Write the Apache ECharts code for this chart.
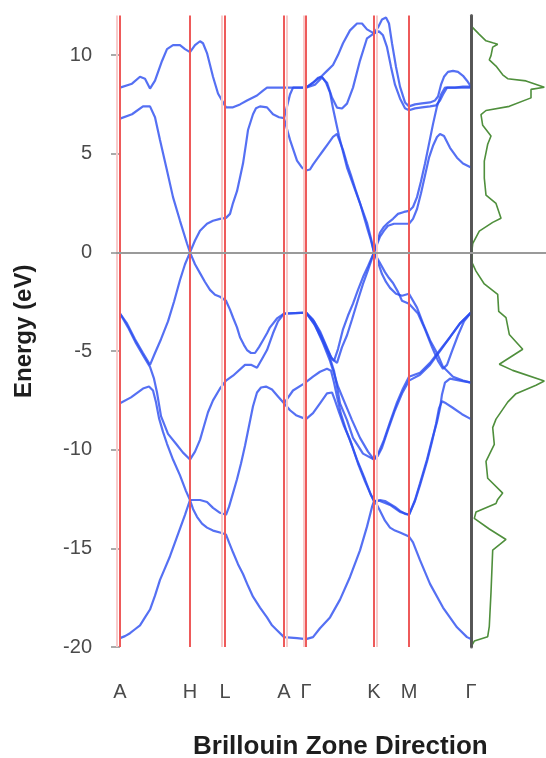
<!DOCTYPE html>
<html><head><meta charset="utf-8">
<script src="https://cdn.jsdelivr.net/npm/echarts@6/dist/echarts.min.js"></script>
<style>html,body{margin:0;padding:0;background:#fff}#c{width:546px;height:758px}</style>
</head><body><div id="c"></div>
<script>
// k-path positions (arbitrary path units) and labels
const kTicks = [0, 70, 105, 164, 186, 254, 289, 351];
const kLabels = ['A', 'H', 'L', 'A', 'Γ', 'K', 'M', 'Γ'];
const kShadow = [-3, 102, 167, 184, 257];
const yTickStep = 5;

// Bands: [k, E(eV)]
const band1 = [[0,8.35],[12,8.55],[20,8.9],[25,8.8],[30,8.3],[35,8.7],[42,9.7],[47,10.3],[53,10.5],[60,10.5],[65,10.3],[70,10.15],[75,10.5],[80,10.7],[83,10.6],[87,10.1],[93,8.9],[98,8.05],[102,7.7],[106,7.35],[113,7.35],[120,7.5],[127,7.7],[137,7.95],[143,8.2],[147,8.35],[160,8.35],[164,8.35],[186,8.35],[193,8.6],[202,8.95],[207,9.2],[213,9.5],[218,10.0],[223,10.6],[230,11.25],[237,11.6],[242,11.6],[247,11.3],[254,11.1],[258,11.4],[262,11.8],[266,11.9],[269,11.6],[272,10.6],[276,9.4],[280,8.4],[285,7.6],[289,7.4],[295,7.5],[302,7.55],[310,7.6],[315,7.7],[318,7.9],[321,8.5],[324,8.9],[328,9.15],[333,9.2],[338,9.15],[343,8.95],[347,8.7],[351,8.4]];
const band2 = [[0,6.78],[12,7.0],[23,7.4],[30,7.4],[35,6.85],[40,5.7],[47,4.15],[53,2.8],[60,1.6],[67,0.45],[70,0],[75,-0.6],[80,-1.05],[85,-1.5],[90,-1.9],[95,-2.15],[100,-2.25],[106,-2.45],[110,-2.9],[113,-3.3],[117,-3.8],[120,-4.3],[124,-4.7],[127,-4.95],[131,-5.1],[135,-5.1],[139,-4.8],[143,-4.45],[147,-4.1],[150,-3.8],[157,-3.35],[164,-3.1],[186,-3.05],[193,-3.4],[200,-4.0],[206,-4.7],[211,-5.3],[214,-5.5],[218,-4.9],[223,-3.9],[228,-3.2],[233,-2.6],[238,-1.9],[243,-1.25],[248,-0.7],[254,0],[258,-0.5],[262,-1.1],[266,-1.5],[270,-1.8],[276,-2.1],[282,-2.2],[289,-2.1],[297,-2.8],[303,-3.6],[310,-4.45],[317,-5.1],[323,-5.8],[333,-6.3],[343,-6.5],[351,-6.6]];
const band3 = [[0,-3.1],[7,-3.6],[15,-4.4],[23,-5.1],[30,-5.7],[35,-5.1],[41,-4.4],[48,-3.5],[54,-2.5],[60,-1.4],[65,-0.6],[70,0],[75,0.6],[80,1.1],[87,1.45],[93,1.6],[100,1.7],[106,1.75],[110,1.95],[113,2.5],[117,3.1],[120,3.8],[123,4.5],[126,5.5],[128,6.2],[133,7.0],[136,7.3],[140,7.4],[147,7.35],[153,7.0],[159,6.85],[164,6.8],[170,5.7],[177,4.65],[182,4.3],[186,4.15],[190,4.2],[193,4.45],[198,4.8],[203,5.15],[208,5.5],[213,5.85],[217,6.0],[220,5.6],[223,5.2],[227,4.5],[231,3.9],[236,3.1],[240,2.5],[244,1.8],[248,1.1],[251,0.6],[254,0],[257,0.4],[260,0.8],[264,1.1],[268,1.35],[274,1.45],[281,1.45],[289,1.45],[293,1.7],[297,2.2],[301,3.0],[305,3.9],[309,4.8],[313,5.4],[317,5.85],[320,6.0],[324,5.9],[330,5.3],[337,4.8],[343,4.5],[351,4.3]];
const band4 = [[164,6.8],[167,7.4],[170,8.0],[173,8.35],[186,8.35],[193,8.6],[198,8.85],[202,8.9],[206,8.6],[210,8.1],[213,7.3],[216,6.6],[219,5.9],[223,5.1],[227,4.3],[232,3.6],[237,2.9],[242,2.2],[247,1.5],[251,0.7],[254,0],[257,0.5],[260,1.0],[264,1.3],[268,1.5],[273,1.7],[278,1.95],[284,2.05],[289,2.1],[293,2.3],[297,2.8],[301,3.6],[305,4.5],[309,5.5],[313,6.5],[317,7.4],[321,8.0],[325,8.35],[335,8.35],[343,8.4],[351,8.4]];
const band5 = [[186,8.35],[195,8.5],[202,8.86],[207,8.6],[212,7.85],[217,7.34],[222,7.29],[227,7.54],[233,8.35],[240,9.72],[247,10.85],[254,11.1],[259,11.2],[263,11.0],[267,10.4],[271,9.4],[275,8.5],[280,7.8],[285,7.3],[289,7.2],[295,7.3],[302,7.35],[310,7.4],[316,7.45],[320,7.7],[323,8.0],[327,8.35],[335,8.35],[343,8.35],[351,8.35]];
const band6 = [[0,-3.1],[8,-3.8],[16,-4.6],[24,-5.3],[30,-5.8],[34,-6.4],[37,-7.1],[41,-8.3],[48,-9.2],[56,-9.7],[63,-10.15],[70,-10.5],[75,-10.1],[80,-9.5],[84,-8.8],[88,-8.1],[93,-7.5],[100,-6.9],[106,-6.5],[113,-6.25],[125,-5.7],[131,-5.7],[137,-5.85],[142,-5.4],[147,-4.95],[153,-4.1],[158,-3.5],[164,-3.1],[186,-3.05],[194,-3.6],[202,-4.4],[209,-5.2],[214,-6.0],[217,-6.8],[220,-7.65],[227,-8.5],[233,-9.4],[243,-10.2],[254,-10.5],[258,-10.3],[262,-9.9],[268,-9.0],[275,-8.0],[282,-7.15],[289,-6.5],[300,-6.2],[310,-5.7],[320,-5.0],[330,-4.3],[340,-3.6],[346,-3.3],[351,-3.05]];
const band7 = [[186,-3.05],[194,-3.5],[201,-4.2],[207,-4.9],[212,-5.4],[217,-5.6],[222,-4.8],[227,-4.2],[232,-3.4],[238,-2.4],[243,-1.6],[248,-0.9],[254,0],[259,-0.45],[265,-1.0],[269,-1.3],[273,-1.55],[278,-2.0],[282,-2.45],[289,-2.6],[298,-3.1],[305,-3.9],[312,-4.8],[318,-5.5],[323,-5.9],[327,-5.7],[332,-5.0],[338,-4.2],[344,-3.5],[351,-3.05]];
const band8 = [[186,-3.05],[195,-3.7],[203,-4.6],[210,-5.5],[215,-6.3],[218,-6.8],[225,-7.65],[232,-8.5],[240,-9.4],[248,-10.1],[254,-10.5],[259,-10.1],[264,-9.5],[270,-8.6],[277,-7.6],[283,-6.9],[289,-6.3],[300,-6.1],[310,-5.6],[320,-4.95],[330,-4.3],[340,-3.6],[351,-3.05]];
const band9 = [[0,-7.65],[11,-7.35],[23,-6.9],[29,-6.8],[33,-7.0],[36,-7.6],[39,-8.4],[43,-9.1],[47,-9.7],[53,-10.5],[60,-11.3],[66,-12.1],[70,-12.55],[75,-12.55],[80,-12.55],[87,-12.65],[93,-12.95],[100,-13.2],[106,-13.3],[109,-12.9],[113,-12.2],[117,-11.5],[121,-10.7],[125,-9.8],[129,-8.8],[133,-7.8],[137,-7.1],[141,-6.85],[146,-6.8],[152,-6.95],[158,-7.3],[164,-7.65],[173,-7.0],[184,-6.65],[186,-6.65],[193,-6.3],[200,-6.05],[207,-5.9],[211,-6.0],[214,-6.6],[217,-7.3],[221,-8.2],[226,-9.0],[232,-9.8],[238,-10.7],[245,-11.6],[251,-12.3],[254,-12.6],[260,-12.55],[265,-12.6],[270,-12.75],[275,-12.9],[280,-13.1],[285,-13.25],[289,-13.3],[295,-12.55],[300,-11.7],[307,-10.5],[312,-9.5],[317,-8.6],[320,-7.9],[322,-7.2],[325,-6.6],[330,-6.4],[340,-6.5],[351,-6.6]];
const band10 = [[164,-7.65],[170,-8.0],[176,-8.25],[186,-8.45],[193,-8.15],[200,-7.65],[207,-7.15],[212,-7.1],[215,-7.5],[219,-8.1],[224,-8.8],[230,-9.5],[237,-10.5],[245,-11.5],[251,-12.3],[254,-12.6],[260,-12.6],[270,-12.8],[280,-13.15],[289,-13.3],[295,-12.6],[300,-11.8],[307,-10.6],[312,-9.6],[316,-8.7],[319,-7.9],[322,-7.55],[326,-7.65],[332,-7.85],[342,-8.2],[351,-8.45]];
const band11 = [[0,-19.55],[5,-19.45],[10,-19.3],[15,-19.1],[20,-18.9],[25,-18.5],[30,-18.1],[35,-17.4],[40,-16.6],[45,-16.0],[50,-15.4],[55,-14.7],[60,-14.0],[65,-13.3],[70,-12.55],[73,-13.0],[77,-13.4],[82,-13.75],[87,-13.95],[93,-14.1],[100,-14.2],[106,-14.3],[109,-14.7],[113,-15.2],[118,-15.8],[123,-16.3],[128,-16.9],[133,-17.45],[140,-18.0],[147,-18.5],[152,-18.9],[157,-19.15],[164,-19.5],[177,-19.55],[186,-19.6],[193,-19.5],[200,-19.05],[210,-18.5],[220,-17.6],[230,-16.45],[240,-15.1],[247,-13.9],[252,-12.9],[254,-12.6],[257,-12.8],[260,-13.1],[265,-13.6],[270,-13.95],[275,-14.1],[280,-14.2],[289,-14.4],[293,-14.7],[300,-15.6],[310,-16.8],[323,-18.0],[337,-19.0],[347,-19.5],[351,-19.6]];

// Density of states (arbitrary units) vs energy
const dosE = [11.43,11.05,10.72,10.62,10.55,10.4,9.97,9.76,9.44,9.0,8.8,8.69,8.37,8.26,7.83,7.4,7.19,6.98,6.44,5.9,5.48,4.62,3.76,2.9,2.48,1.73,1.52,1.08,0.44,0.12,-0.52,-0.95,-1.6,-2.13,-2.99,-3.31,-4.16,-4.91,-5.67,-5.98,-6.52,-6.73,-7.16,-7.59,-8.45,-8.88,-9.73,-10.59,-11.45,-12.2,-12.52,-12.73,-13.16,-13.48,-14.02,-14.55,-15.09,-17.23,-18.95,-19.48,-19.7,-19.9];
const dosV = [1,8.3,15,21.7,26.7,21.7,20,18.3,25,31.7,36.7,55,73.3,60,60,38.3,15,10,11.7,20,16.7,13.3,13.3,15,25,30,21.7,8.3,1.7,1,1,5,13.3,26.7,27.7,35,38.3,51.7,28.3,41.7,73.3,65,45,36.7,25,21.7,23.3,15,16.7,31.7,26.7,25,5,3.3,18.3,35,21.7,20,18.3,16.7,3.3,1];

const bands = [band1, band2, band3, band4, band5, band6, band7, band8, band9, band10, band11];

const chart = echarts.init(document.getElementById('c'), null, {renderer: 'canvas'});
const FONT = 'Liberation Sans';

const bandSeries = bands.map((b, i) => ({
  name: 'band' + (i + 1), type: 'line', xAxisIndex: 0, yAxisIndex: 0,
  data: b, showSymbol: false, silent: true, z: 4,
  lineStyle: {color: '#2b4cf0', width: 2.2, opacity: 0.8}
}));

const option = {
  animation: false,
  backgroundColor: '#ffffff',
  title: {
    text: 'Brillouin Zone Direction', left: 188, top: 729,
    textStyle: {fontFamily: FONT, fontWeight: 'bold', fontSize: 26, color: '#1e1e1e'}
  },
  grid: [
    {left: 116, right: 75, top: 15.6, bottom: 111},
    {left: 471, right: 0, top: 15.6, bottom: 111}
  ],
  xAxis: [
    {type: 'value', gridIndex: 0, min: -4, max: 351,
     axisLine: {show: false}, splitLine: {show: false},
     axisTick: {show: true, customValues: kTicks.slice(0, 7), length: 6, lineStyle: {color: '#ee5a5a', width: 2}},
     axisLabel: {show: true, customValues: kTicks, margin: 35, fontFamily: FONT, fontSize: 20, color: '#4a4a4a',
       formatter: v => { const i = kTicks.indexOf(v); return i >= 0 ? kLabels[i] : ''; }}},
    {type: 'value', gridIndex: 1, min: 0, max: 75,
     axisLine: {show: false}, splitLine: {show: false}, axisLabel: {show: false},
     axisTick: {show: true, customValues: [0], length: 10, lineStyle: {color: '#666', width: 3}}}
  ],
  yAxis: [
    {type: 'value', gridIndex: 0, min: -20, max: 12, interval: yTickStep,
     name: 'Energy (eV)', nameLocation: 'middle', nameGap: 80,
     nameTextStyle: {fontFamily: FONT, fontWeight: 'bold', fontSize: 24, color: '#1e1e1e'},
     axisLine: {show: false}, splitLine: {show: false},
     axisTick: {show: true, length: 9, lineStyle: {color: '#aaa', width: 2}},
     axisLabel: {margin: 24, fontFamily: FONT, fontSize: 20, color: '#4a4a4a', showMaxLabel: false}},
    {type: 'value', gridIndex: 1, min: -20, max: 12, interval: yTickStep,
     axisLine: {show: true, lineStyle: {color: '#666', width: 3}},
     axisTick: {show: false}, axisLabel: {show: false}, splitLine: {show: false}}
  ],
  series: [
    {type: 'line', xAxisIndex: 0, yAxisIndex: 0, data: [], z: 1, silent: true,
     markLine: {silent: true, symbol: 'none', label: {show: false}, animation: false,
       data: [
         ...kShadow.map(k => ({xAxis: k, lineStyle: {color: '#f8caca', width: 2, type: 'solid'}})),
         ...kTicks.slice(0, 7).map(k => ({xAxis: k, lineStyle: {color: '#ee5a5a', width: 2, type: 'solid'}})),
         {xAxis: kTicks[7], lineStyle: {color: '#555', width: 2.5, type: 'solid'}},
         {yAxis: 0, lineStyle: {color: '#9a9a9a', width: 2, type: 'solid'}}
       ]}},
    {type: 'line', xAxisIndex: 1, yAxisIndex: 1, data: [], z: 1, silent: true,
     markLine: {silent: true, symbol: 'none', label: {show: false}, animation: false,
       data: [{yAxis: 0, lineStyle: {color: '#9a9a9a', width: 2, type: 'solid'}}]}},
    ...bandSeries,
    {name: 'DOS', type: 'line', xAxisIndex: 1, yAxisIndex: 1, z: 4, silent: true,
     data: dosE.map((e, i) => [dosV[i], e]), showSymbol: false,
     lineStyle: {color: '#4f8f3c', width: 1.6}}
  ]
};
chart.setOption(option);
</script>
</body></html>
